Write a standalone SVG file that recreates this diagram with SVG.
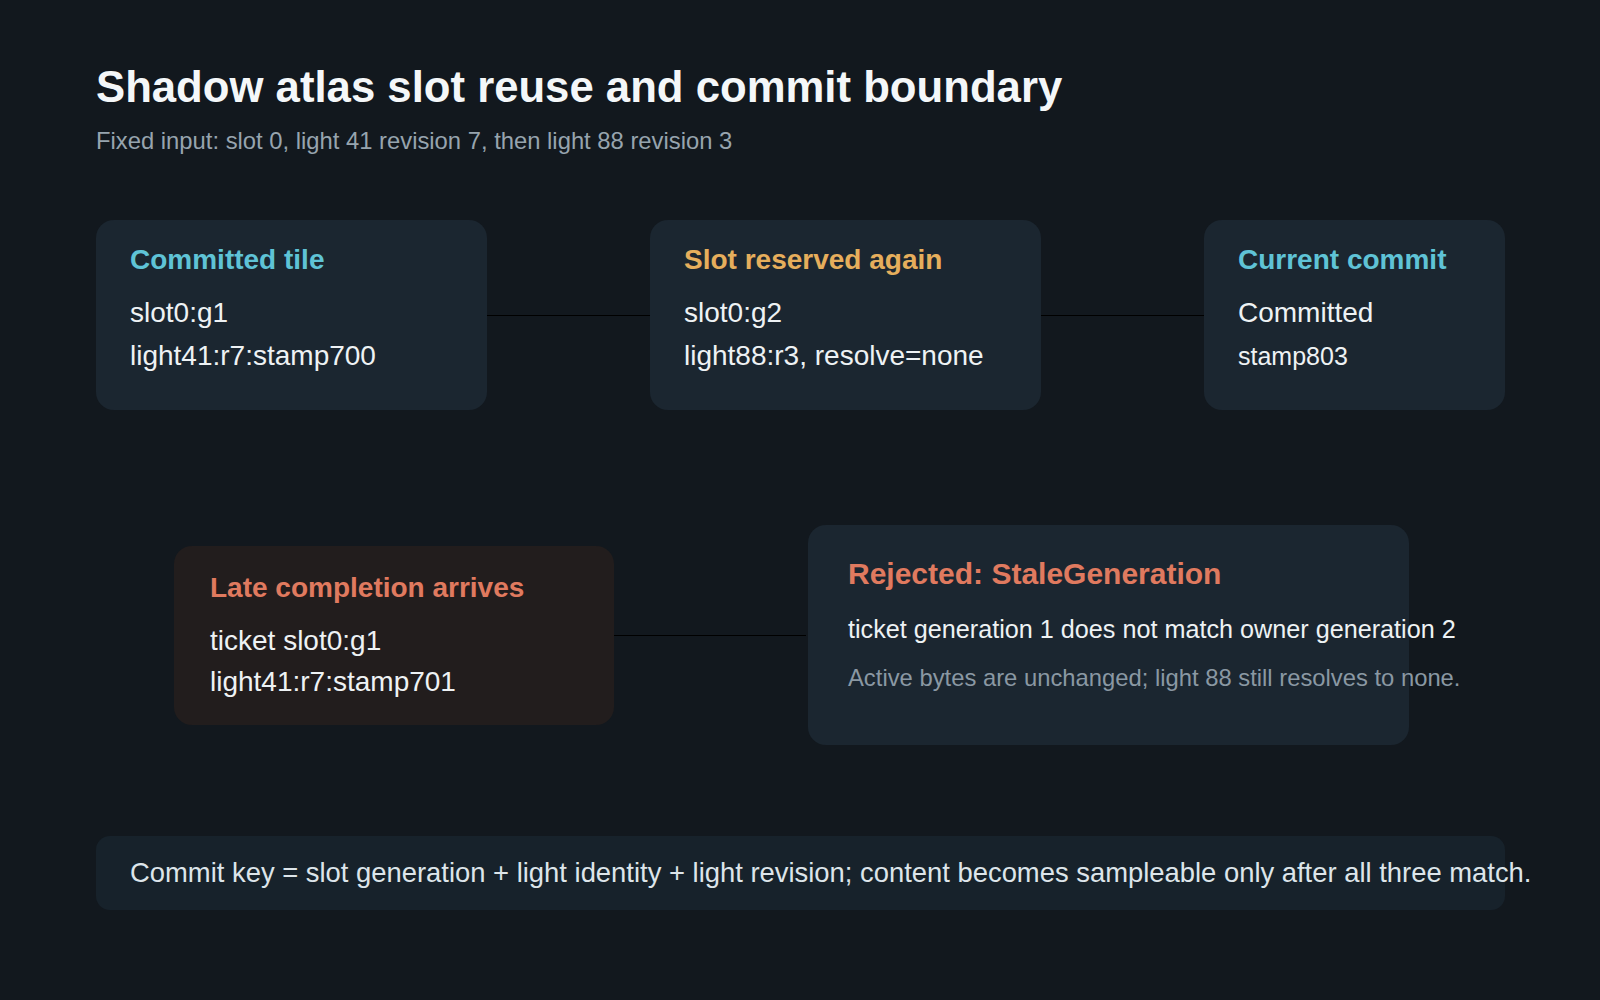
<svg xmlns="http://www.w3.org/2000/svg" width="1600" height="1000" viewBox="0 0 1600 1000">
<style>
text{font-family:"Liberation Sans",Arial,sans-serif}
.box{fill:#1b2630}
.warm{fill:#221d1d}
.h{font-weight:bold;font-size:28px}
.b{fill:#eef2f4;font-size:28px}
.cy{fill:#5fc3d6}
.or{fill:#e6ae5c}
.co{fill:#e07a5f}
.conn{stroke:#000;stroke-width:1.2;fill:none}
</style>
<rect width="1600" height="1000" fill="#12181e"/>
<text x="96" y="102" font-size="43.7" font-weight="bold" fill="#f4f7f9">Shadow atlas slot reuse and commit boundary</text>
<text x="96" y="149" font-size="23.8" fill="#97a4ae">Fixed input: slot 0, light 41 revision 7, then light 88 revision 3</text>
<g id="connectors">
<line class="conn" x1="487" y1="315.5" x2="650" y2="315.5"/>
<line class="conn" x1="1041" y1="315.5" x2="1204" y2="315.5"/>
<line class="conn" x1="614" y1="635.5" x2="806" y2="635.5"/>
</g>
<g id="committed-tile">
<rect class="box" x="96" y="220" width="391" height="190" rx="18"/>
<text class="h cy" x="130" y="269">Committed tile</text>
<text class="b" x="130" y="322">slot0:g1</text>
<text class="b" x="130" y="365">light41:r7:stamp700</text>
</g>
<g id="slot-reserved">
<rect class="box" x="650" y="220" width="391" height="190" rx="18"/>
<text class="h or" x="684" y="269">Slot reserved again</text>
<text class="b" x="684" y="322">slot0:g2</text>
<text class="b" x="684" y="365">light88:r3, resolve=none</text>
</g>
<g id="current-commit">
<rect class="box" x="1204" y="220" width="301" height="190" rx="18"/>
<text class="h cy" x="1238" y="269">Current commit</text>
<text class="b" x="1238" y="322">Committed</text>
<text class="b" x="1238" y="365" style="font-size:25px">stamp803</text>
</g>
<g id="late-completion">
<rect class="warm" x="174" y="546" width="440" height="179" rx="18"/>
<text class="h co" x="210" y="597">Late completion arrives</text>
<text class="b" x="210" y="650">ticket slot0:g1</text>
<text class="b" x="210" y="691">light41:r7:stamp701</text>
</g>
<g id="rejected">
<rect class="box" x="808" y="525" width="601" height="220" rx="18"/>
<text class="co" x="848" y="584" font-size="30" font-weight="bold">Rejected: StaleGeneration</text>
<text x="848" y="638" font-size="25.2" fill="#eef2f4">ticket generation 1 does not match owner generation 2</text>
<text x="848" y="686" font-size="23.8" fill="#8a98a3">Active bytes are unchanged; light 88 still resolves to none.</text>
</g>
<g id="commit-key">
<rect x="96" y="836" width="1409" height="74" rx="14" fill="#17222b"/>
<text x="130" y="882" font-size="27.4" fill="#dde5ea">Commit key = slot generation + light identity + light revision; content becomes sampleable only after all three match.</text>
</g>
</svg>
